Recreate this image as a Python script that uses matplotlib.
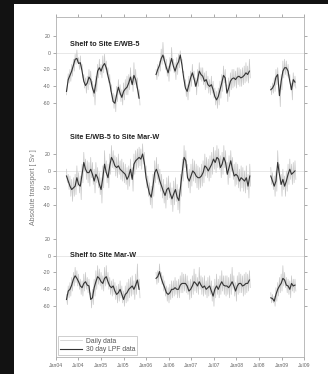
import pandas as pd
import matplotlib
matplotlib.use('Agg')
import matplotlib.pyplot as plt
import matplotlib.dates as mdates
from matplotlib.patches import Rectangle

plt.rcParams['font.family'] = ['Liberation Sans', 'DejaVu Sans']

# panel titles and where each panel's zero sits on the shared y axis
titles = ['Shelf to Site E/WB-5', 'Site E/WB-5 to Site Mar-W', 'Shelf to Site Mar-W']
offsets = [0, -140, -240]
title_y = [10, 40, 0]

tick_vals = [20, 0, -20, -40, -60, 20, 0, -20, -40, 20, 0, -20, -40, -60]
tick_panel = [0, 0, 0, 0, 0, 1, 1, 1, 1, 2, 2, 2, 2, 2]

# segment start dates (LPF every 14 days, daily every 7 days)
p1_starts = ['2004-03-26', '2006-03-21', '2008-10-05']
p2_starts = ['2004-03-26', '2008-10-05']
p3_starts = ['2004-03-26', '2006-03-21', '2008-10-05']

# --- Shelf to Site E/WB-5
p1_lpf_a = [-46, -32, -27, -22, -15, -8, -7, -13, -12, -22, -34, -39, -36, -29, -32, -42, -48, -36, -22, -18,
            -22, -16, -13, -18, -28, -36, -48, -58, -60, -50, -41, -48, -53, -46, -43, -41, -36, -29, -38, -27,
            -32, -42, -54]
p1_lpf_b = [-26, -20, -15, -7, -3, -11, -18, -24, -15, -7, -16, -22, -15, -11, -3, -15, -30, -42, -46, -38,
            -30, -24, -31, -40, -32, -22, -26, -28, -34, -32, -38, -40, -38, -44, -52, -56, -52, -44, -36, -27,
            -30, -48, -42, -34, -31, -30, -32, -29, -28, -30, -29, -27, -24, -26, -22]
p1_lpf_c = [-44, -42, -38, -29, -26, -51, -34, -22, -18, -18, -22, -34, -44, -32, -35]
p1_day_a = [-50, -38, -25, -36, -20, -34, -14, -28, -8, -22, -2, -14, 3, -12, -6, -20, -4, -20, -14, -30,
            -26, -42, -30, -48, -28, -44, -20, -38, -22, -40, -34, -52, -38, -62, -28, -46, -14, -30, -8, -26,
            -14, -30, -4, -24, -2, -20, -10, -26, -18, -36, -26, -46, -38, -58, -48, -66, -50, -70, -40, -58,
            -32, -50, -38, -58, -44, -62, -36, -56, -32, -50, -28, -50, -26, -44, -18, -36, -28, -46, -12, -38,
            -20, -42, -30, -54, -44, -62]
p1_day_b = [-20, -32, -14, -28, -10, -22, 4, -14, 12, -10, -4, -20, -8, -28, -16, -34, -6, -22, 6, -14,
            -8, -24, -12, -32, -6, -26, -2, -18, 2, -10, -8, -24, -22, -40, -32, -52, -38, -56, -28, -46,
            -22, -40, -14, -32, -22, -40, -30, -50, -20, -40, -12, -32, -18, -34, -18, -38, -24, -44, -22, -42,
            -28, -48, -32, -50, -28, -48, -34, -54, -42, -62, -46, -66, -42, -62, -34, -54, -26, -46, -16, -36,
            -20, -40, -38, -58, -30, -52, -24, -44, -20, -42, -20, -40, -22, -42, -18, -38, -18, -40, -20, -40,
            -18, -38, -16, -36, -12, -34, -16, -36, -8, -30]
p1_day_c = [-40, -50, -36, -48, -30, -46, -20, -38, -18, -36, -40, -64, -26, -44, -10, -30, -8, -26, -10, -28,
            -14, -30, -26, -44, -36, -56, -24, -40, -28, -42]

# --- Site E/WB-5 to Site Mar-W
p2_lpf_a = [-6, -12, -18, -22, -20, -18, -8, -16, -18, -4, 10, 2, -2, -2, 2, -4, -12, -4, -8, -16,
            -22, -8, 8, -2, -8, 6, 16, 12, 6, 4, 6, 2, 0, -2, -4, -10, -6, 2, -10, 8,
            12, 14, 16, 14, 20, 10, -8, -18, -27, -31, -18, -2, 2, -4, -12, -18, -24, -29, -22, -20,
            -27, -33, -27, -22, -31, -35, -18, 0, 16, 12, -8, -12, -6, 0, -2, -6, -8, -8, -6, -2,
            6, 4, 0, 4, 8, 14, 10, 16, 14, 4, 8, 16, 10, -4, 4, 12, 2, -6, -4, -6,
            -12, -8, -10, -12, -8, -18, -6]
p2_lpf_b = [-6, -12, -18, -12, 10, -4, -16, -10, -18, -12, -4, 2, -4, -2, 0]
p2_day_a = [2, -14, -4, -22, -6, -30, -10, -36, -8, -30, -4, -28, 6, -18, -2, -26, -6, -34, 8, -14,
            22, 0, 14, -10, 12, -14, 10, -18, 16, -8, 10, -16, 2, -26, 10, -14, 4, -20, -2, -28,
            -8, -38, 6, -20, 24, -2, 12, -14, 8, -20, 20, -4, 30, 4, 24, 2, 18, -6, 16, -8,
            20, -4, 12, -10, 14, -12, 10, -14, 8, -16, 4, -22, 6, -18, 14, -8, 4, -24, 20, -4,
            24, 2, 26, 4, 28, 6, 26, 2, 32, 8, 22, -2, 6, -20, -6, -30, -14, -40, -18, -44,
            -4, -30, 12, -14, 16, -10, 8, -16, 2, -24, -4, -32, -10, -38, -16, -44, -8, -34, -6, -32,
            -14, -40, -20, -48, -12, -40, -8, -36, -16, -46, -22, -50, -4, -30, 14, -12, 30, 4, 24, 0,
            8, -20, 2, -26, 8, -18, 14, -12, 12, -14, 8, -20, 6, -22, 4, -20, 8, -18, 12, -14,
            20, -6, 16, -8, 14, -12, 18, -8, 22, -4, 28, 2, 24, -2, 30, 4, 26, 2, 18, -8,
            22, -4, 30, 4, 24, -2, 10, -16, 18, -8, 24, 0, 16, -10, 8, -18, 10, -16, 8, -20,
            2, -24, 6, -20, 4, -24, 0, -26, 6, -22, -4, -32, 8, -18]
p2_day_b = [4, -16, -2, -22, -6, -30, 0, -24, 24, -2, 8, -16, -4, -30, 2, -22, -6, -30, 0, -24,
            8, -16, 14, -10, 8, -16, 10, -14, 12, -10]

# --- Shelf to Site Mar-W
p3_lpf_a = [-52, -42, -40, -35, -28, -24, -27, -31, -36, -38, -33, -31, -35, -36, -52, -50, -38, -31, -25, -27,
            -31, -33, -27, -25, -31, -36, -38, -36, -42, -46, -44, -40, -46, -52, -46, -44, -40, -38, -36, -40,
            -35, -29, -40]
p3_lpf_b = [-27, -25, -19, -27, -33, -38, -44, -46, -44, -40, -40, -38, -40, -40, -35, -33, -33, -33, -36, -42,
            -40, -36, -31, -33, -36, -31, -35, -38, -36, -40, -38, -36, -42, -48, -40, -36, -40, -35, -31, -35,
            -36, -36, -38, -35, -31, -36, -42, -36, -33, -33, -36, -35, -33, -33, -29]
p3_lpf_c = [-50, -51, -54, -46, -40, -36, -33, -27, -29, -35, -36, -40, -33, -36, -35]
p3_day_a = [-46, -58, -36, -50, -32, -48, -26, -42, -20, -36, -14, -32, -18, -36, -22, -40, -28, -46, -30, -48,
            -22, -42, -20, -40, -26, -44, -28, -46, -44, -62, -40, -58, -28, -48, -18, -40, -12, -34, -16, -36,
            -20, -40, -24, -42, -14, -36, -12, -34, -20, -40, -26, -46, -30, -48, -28, -46, -32, -52, -36, -56,
            -34, -54, -30, -50, -36, -56, -42, -60, -36, -56, -32, -54, -28, -50, -26, -48, -24, -46, -30, -52,
            -22, -46, -10, -40, -28, -50]
p3_day_b = [-20, -34, -18, -32, -10, -26, -20, -34, -24, -42, -30, -48, -36, -54, -38, -56, -34, -52, -30, -50,
            -30, -48, -26, -46, -30, -50, -28, -50, -24, -44, -20, -44, -22, -42, -22, -44, -24, -46, -30, -52,
            -28, -50, -24, -46, -16, -42, -22, -44, -26, -46, -14, -40, -24, -46, -26, -48, -24, -46, -30, -50,
            -26, -48, -24, -46, -30, -54, -36, -60, -28, -50, -22, -46, -28, -50, -24, -46, -18, -42, -24, -46,
            -24, -48, -24, -46, -26, -50, -22, -46, -14, -40, -24, -48, -32, -54, -24, -46, -20, -44, -22, -44,
            -24, -48, -22, -46, -20, -44, -22, -42, -18, -38]
p3_day_c = [-44, -56, -46, -56, -48, -60, -38, -54, -32, -48, -26, -44, -22, -42, -12, -36, -20, -38, -26, -44,
            -28, -46, -30, -50, -24, -42, -28, -44, -28, -42]

panels = [
    (p1_starts, [p1_lpf_a, p1_lpf_b, p1_lpf_c], [p1_day_a, p1_day_b, p1_day_c]),
    (p2_starts, [p2_lpf_a, p2_lpf_b], [p2_day_a, p2_day_b]),
    (p3_starts, [p3_lpf_a, p3_lpf_b, p3_lpf_c], [p3_day_a, p3_day_b, p3_day_c]),
]

fig = plt.figure(figsize=(3.28, 3.74), dpi=100, facecolor='#121212')
# white sheet behind the plot
fig.patches.append(Rectangle((14 / 328, 0), 1 - 14 / 328, 1 - 4 / 374, transform=fig.transFigure,
                             facecolor='white', edgecolor='none', zorder=-10))
ax = fig.add_axes([56 / 328, 17 / 374, 248 / 328, 340 / 374])
ax.set_zorder(5)
ax.set_facecolor('white')

for i, (starts, lpfs, days) in enumerate(panels):
    off = offsets[i]
    ax.axhline(off, color='#e4e4e4', lw=0.6, zorder=1)
    for st, lpf, day in zip(starts, lpfs, days):
        d_day = pd.date_range(st, periods=len(day), freq='7D')
        d_lpf = pd.date_range(st, periods=len(lpf), freq='14D')
        ax.plot(d_day, [v + off for v in day], color='#c8c8c8', lw=0.5, zorder=2,
                label='Daily data' if i == 0 and st == starts[0] else None)
        ax.plot(d_lpf, [v + off for v in lpf], color='#333333', lw=0.8, zorder=3,
                label='30 day LPF data' if i == 0 and st == starts[0] else None)
    ax.text(pd.Timestamp('2004-04-27'), off + title_y[i], titles[i], fontsize=5.2,
            fontweight='bold', color='#222222', va='center', ha='left')

ax.set_xlim(pd.Timestamp('2004-01-01'), pd.Timestamp('2009-07-01'))
ax.set_ylim(-360, 42)
ax.set_yticks([v + offsets[p] for v, p in zip(tick_vals, tick_panel)])
ax.set_yticklabels([str(v) for v in tick_vals])
ax.xaxis.set_major_locator(mdates.MonthLocator(bymonth=[1, 7]))
ax.xaxis.set_major_formatter(mdates.DateFormatter('%b%y'))
ax.tick_params(axis='both', labelsize=3.7, colors='#888888', labelcolor='#666666',
               length=2.5, width=0.5, direction='out', pad=1.5,
               top=True, right=True)
for s in ax.spines.values():
    s.set_color('#b0b0b0')
    s.set_linewidth(0.6)

ax.set_ylabel('Absolute transport [ Sv ]', fontsize=5, color='#777777', labelpad=4)

leg = ax.legend(loc='lower left', fontsize=4.9, frameon=True, fancybox=False,
                borderaxespad=0.3, handlelength=3.2, handletextpad=0.6,
                borderpad=0.3, labelspacing=0.2)
leg.get_frame().set_edgecolor('#aaaaaa')
leg.get_frame().set_linewidth(0.5)
for t in leg.get_texts():
    t.set_color('#555555')

fig.savefig('out.png', dpi=100, facecolor=fig.get_facecolor())
